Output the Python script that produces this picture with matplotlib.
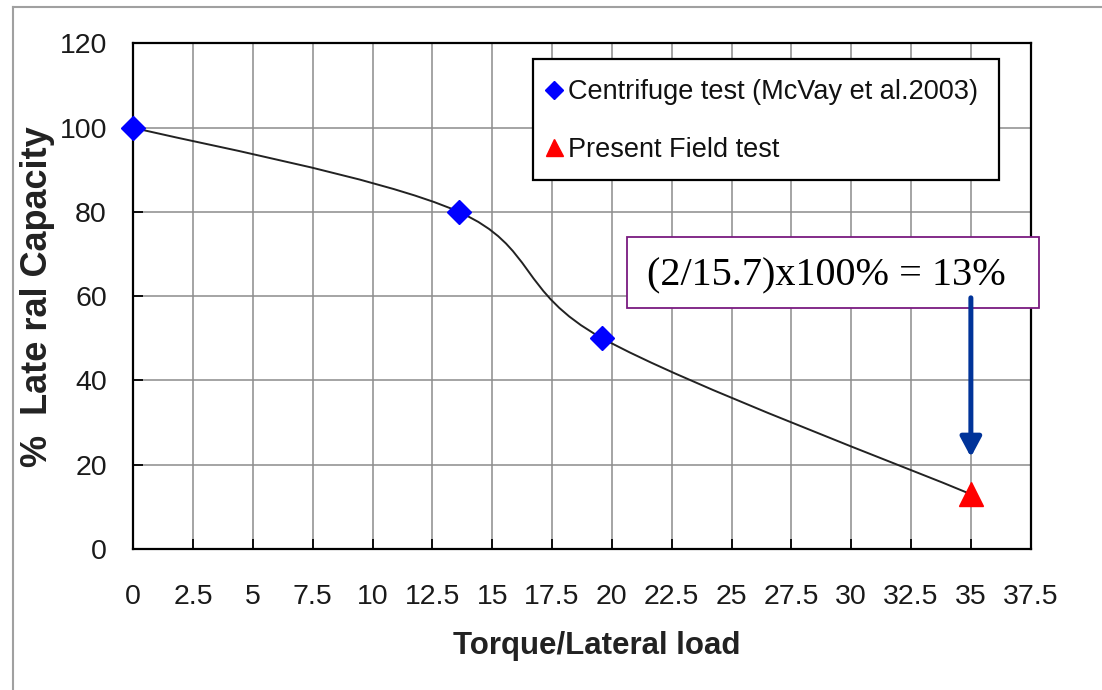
import numpy as np
import matplotlib
matplotlib.use("Agg")
import matplotlib.pyplot as plt
from matplotlib.path import Path
from matplotlib.patches import PathPatch, Rectangle
from matplotlib.lines import Line2D

# ---- data ----
centrifuge_x = [0, 13.6, 19.6]
centrifuge_y = [100, 80, 50]
field_x = [35]
field_y = [13]
xticks = [0, 2.5, 5, 7.5, 10, 12.5, 15, 17.5, 20, 22.5, 25, 27.5, 30, 32.5, 35, 37.5]
xticklabels = ["0", "2.5", "5", "7.5", "10", "12.5", "15", "17.5", "20", "22.5",
               "25", "27.5", "30", "32.5", "35", "37.5"]
yticks = [0, 20, 40, 60, 80, 100, 120]
legend_labels = ["Centrifuge test (McVay et al.2003)", "Present Field test"]
annotation_text = "(2/15.7)x100% = 13%"
arrow_from_y = 59.6
arrow_to_y = 21.8

SANS = ["Liberation Sans Narrow", "Liberation Sans", "DejaVu Sans"]
SERIF = ["Liberation Serif", "DejaVu Serif"]

W, H = 1102, 690
fig = plt.figure(figsize=(W / 100, H / 100), dpi=100)
fig.patch.set_facecolor("white")

def fx(px):
    return px / W

def fy(py):
    return 1 - py / H

ax = fig.add_axes([fx(133.3), fy(549), fx(1030.7) - fx(133.3), fy(43.3) - fy(549)])
ax.set_xlim(0, 37.5)
ax.set_ylim(0, 120)

ax.set_xticks(xticks)
ax.set_xticklabels(xticklabels)
ax.set_yticks(yticks)
ax.grid(True, color="#8c8c8c", linewidth=1.1)
ax.set_axisbelow(True)
for s in ax.spines.values():
    s.set_linewidth(1.6)
    s.set_color("black")
ax.tick_params(axis="both", direction="in", length=7, width=1.3, color="black",
               labelcolor="#1a1a1a", labelsize=20.5)
ax.tick_params(axis="x", pad=25)
ax.tick_params(axis="y", pad=19)
for lab in ax.get_xticklabels() + ax.get_yticklabels():
    lab.set_family(SANS)

# smooth curve (Catmull-Rom cubic Bezier through all points, Excel-style smoothing)
pts_x = centrifuge_x + field_x
pts_y = centrifuge_y + field_y
P = np.column_stack([pts_x, pts_y]).astype(float)
n = len(P)
verts = [tuple(P[0])]
codes = [Path.MOVETO]
for i in range(n - 1):
    p0 = P[i - 1] if i > 0 else P[i]
    p1 = P[i]
    p2 = P[i + 1]
    p3 = P[i + 2] if i + 2 < n else P[i + 1]
    c1 = p1 + (p2 - p0) / 6.0
    c2 = p2 - (p3 - p1) / 6.0
    verts += [tuple(c1), tuple(c2), tuple(p2)]
    codes += [Path.CURVE4, Path.CURVE4, Path.CURVE4]
curve = PathPatch(Path(verts, codes), facecolor="none", edgecolor="#222222",
                  linewidth=1.4, zorder=3)
ax.add_patch(curve)

h1, = ax.plot(centrifuge_x, centrifuge_y, linestyle="none", marker="D",
              markersize=12.5, color="#0000ff", zorder=5, clip_on=False,
              label=legend_labels[0])
h2, = ax.plot(field_x, field_y, linestyle="none", marker="^",
              markersize=17, color="#ff0000", zorder=5, clip_on=False,
              label=legend_labels[1])

# legend frame drawn explicitly, legend entries placed inside it
leg_box = Rectangle((fx(533), fy(180)), fx(999) - fx(533), fy(59) - fy(180),
                    transform=fig.transFigure, facecolor="white",
                    edgecolor="black", linewidth=1.6, zorder=6, clip_on=False)
ax.add_artist(leg_box)
leg = ax.legend(handles=[h1, h2], loc="upper left",
                bbox_to_anchor=(fx(546), fy(79)), bbox_transform=fig.transFigure,
                prop={"family": SANS, "size": 19.5}, frameon=False,
                borderaxespad=0, borderpad=0, handlelength=0.6, handletextpad=0.2,
                labelspacing=1.17, markerscale=0.72)
leg.set_zorder(7)
for t in leg.get_texts():
    t.set_color("#111111")

# annotation box + text
ann_box = Rectangle((fx(627), fy(308)), fx(1039) - fx(627), fy(237) - fy(308),
                    transform=fig.transFigure, facecolor="white",
                    edgecolor="#7a1a80", linewidth=1.3, zorder=10, clip_on=False)
ax.add_artist(ann_box)
ax.text(fx(647), fy(276), annotation_text, family=SERIF, fontsize=29,
        ha="left", va="center", color="black", zorder=11,
        transform=fig.transFigure, clip_on=False)

# arrow
ax.annotate("", xy=(field_x[0], arrow_to_y), xytext=(field_x[0], arrow_from_y),
            arrowprops=dict(arrowstyle="-|>,head_width=0.32,head_length=0.6",
                            lw=3.6, color="#003399", shrinkA=0, shrinkB=0,
                            mutation_scale=20), zorder=12)

# axis labels
fig.text(fx(597), fy(646), "Torque/Lateral load", family=SANS, fontsize=22.5,
         fontweight="bold", ha="center", va="center", color="#222222")
fig.text(fx(38), fy(297), "%  Late ral Capacity", family=SANS, fontsize=26,
         fontweight="bold", ha="center", va="center", rotation=90, color="#222222")

# outer border
fig.add_artist(Line2D([fx(13), fx(13)], [fy(7), 0], transform=fig.transFigure,
                      color="#a0a0a0", linewidth=1.5))
fig.add_artist(Line2D([fx(13), 1], [fy(7), fy(7)], transform=fig.transFigure,
                      color="#a0a0a0", linewidth=1.5))

fig.savefig("out.png", dpi=100, facecolor="white")
